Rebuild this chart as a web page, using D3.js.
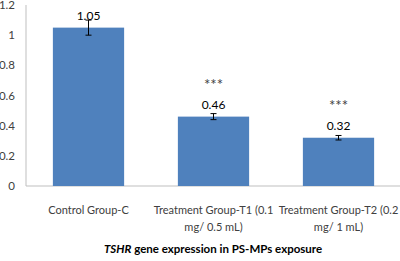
<!DOCTYPE html>
<html>
<head>
<meta charset="utf-8">
<script src="https://cdn.jsdelivr.net/npm/d3@7"></script>
<style>
  body { margin: 0; background: #fff; }
  svg { display: block; font-family: Lato, "Open Sans", sans-serif; }
</style>
</head>
<body>
<div id="chart"></div>
<script>
const categories = ['Control Group-C', 'Treatment Group-T1 (0.1 mg/ 0.5 mL)', 'Treatment Group-T2 (0.2 mg/ 1 mL)'];
const catLines = [['Control Group-C'], ['Treatment Group-T1 (0.1', 'mg/ 0.5 mL)'], ['Treatment Group-T2 (0.2', 'mg/ 1 mL)']];
const values = [1.05, 0.46, 0.32];
const errors = [0.05, 0.02, 0.015];
const signif = ['', '***', '***'];
const yTicks = [0, 0.2, 0.4, 0.6, 0.8, 1, 1.2];

const W = 400, H = 261;
const M = { top: 5, right: 0, bottom: 75, left: 26 };

const svg = d3.select('#chart').append('svg')
  .attr('width', W).attr('height', H);

const x = d3.scaleBand().domain(categories)
  .range([M.left, M.left + 375])
  .paddingInner(0.43).paddingOuter(0.215);

const y = d3.scaleLinear().domain([0, 1.2]).range([H - M.bottom, M.top]);

// axes lines
svg.append('line')
  .attr('x1', M.left).attr('x2', M.left)
  .attr('y1', y(1.2)).attr('y2', y(0))
  .attr('stroke', '#bfbfbf');
svg.append('line')
  .attr('x1', M.left).attr('x2', W)
  .attr('y1', y(0)).attr('y2', y(0))
  .attr('stroke', '#bfbfbf');

svg.selectAll('.ytick')
  .data(yTicks)
  .enter().append('text')
  .attr('x', 15)
  .attr('y', d => y(d))
  .attr('dy', '0.35em')
  .attr('text-anchor', 'end')
  .style('font-size', '11.5px')
  .attr('fill', '#404040')
  .text(d => d);

svg.selectAll('.bar')
  .data(values)
  .enter().append('rect')
  .attr('x', (d, i) => x(categories[i]))
  .attr('y', d => y(d))
  .attr('width', x.bandwidth())
  .attr('height', d => y(0) - y(d))
  .attr('fill', '#4f81bd');

// error bars
const cx = i => x(categories[i]) + x.bandwidth() / 2;
values.forEach((v, i) => {
  const g = svg.append('g').attr('stroke', '#000').attr('stroke-width', 1);
  g.append('line').attr('x1', cx(i)).attr('x2', cx(i))
    .attr('y1', y(v + errors[i])).attr('y2', y(v - errors[i]));
  [v + errors[i], v - errors[i]].forEach(e => {
    g.append('line').attr('x1', cx(i) - 3).attr('x2', cx(i) + 3)
      .attr('y1', y(e)).attr('y2', y(e));
  });
});

svg.selectAll('.val')
  .data(values)
  .enter().append('text')
  .attr('x', (d, i) => cx(i))
  .attr('y', d => y(d) - 8)
  .attr('text-anchor', 'middle')
  .style('font-size', '12px')
  .attr('fill', '#000')
  .text(d => d.toFixed(2));

svg.selectAll('.sig')
  .data(signif)
  .enter().append('text')
  .attr('x', (d, i) => cx(i))
  .attr('y', (d, i) => y(values[i]) - 27)
  .attr('text-anchor', 'middle')
  .style('font-size', '15px')
  .attr('fill', '#404040')
  .text(d => d);

catLines.forEach((lines, i) => {
  const t = svg.append('text')
    .attr('x', cx(i))
    .attr('y', y(0) + 28)
    .attr('text-anchor', 'middle')
    .style('font-size', '11px')
    .attr('fill', '#404040');
  lines.forEach((l, j) => {
    t.append('tspan').attr('x', cx(i)).attr('dy', j === 0 ? 0 : 17).text(l);
  });
});

const title = svg.append('text')
  .attr('x', 213).attr('y', 253)
  .attr('text-anchor', 'middle')
  .style('font-size', '11.5px')
  .style('font-weight', 'bold')
  .attr('fill', '#000');
title.append('tspan').style('font-style', 'italic').text('TSHR');
title.append('tspan').text(' gene expression in PS-MPs exposure');
</script>
</body>
</html>
